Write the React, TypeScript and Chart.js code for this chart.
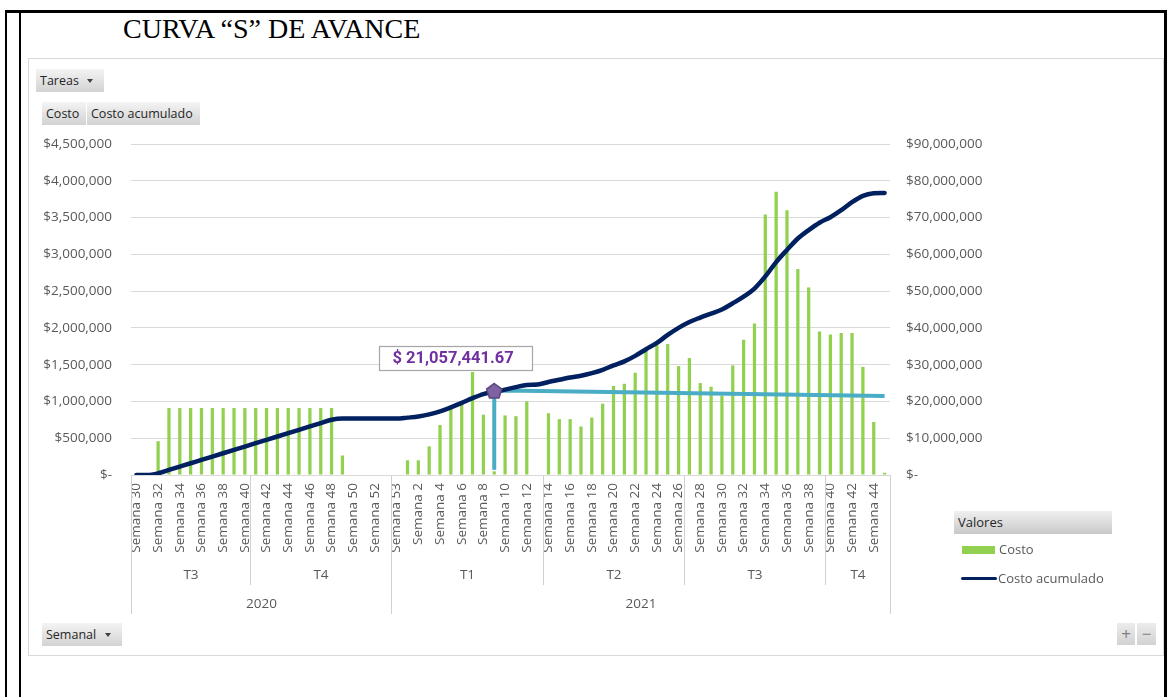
import React, { useEffect, useRef } from 'react';
import { Chart, registerables } from 'chart.js';

Chart.register(...registerables);

// ---------- DATA ----------
const weeks2020 = [30, 31, 32, 33, 34, 35, 36, 37, 38, 39, 40, 41, 42, 43, 44, 45, 46, 47, 48, 49, 50, 51, 52, 53];
const weeks2021 = [53, 1, 2, 3, 4, 5, 6, 7, 8, 9, 10, 11, 12, 13, 14, 15, 16, 17, 18, 19, 20, 21, 22, 23, 24, 25, 26, 27, 28, 29, 30, 31, 32, 33, 34, 35, 36, 37, 38, 39, 40, 41, 42, 43, 44, 45];

const quarterLabels = ['T3', 'T4', 'T1', 'T2', 'T3', 'T4'];
const quarterWeekCounts = [11, 13, 14, 13, 13, 6];
const yearLabels = ['2020', '2021'];
const yearQuarterCounts = [2, 4];

const costo2020 = [null, null, 460000, 910000, 910000, 910000, 910000, 910000, 910000, 910000, 910000, 910000, 910000, 910000, 910000, 910000, 910000, 910000, 910000, 265000, null, null, null, null];
const costo2021 = [null, 200000, 200000, 390000, 680000, 910000, 990000, 1400000, 820000, 50000, 810000, 800000, 1000000, null, 840000, 760000, 760000, 660000, 780000, 970000, 1210000, 1240000, 1390000, 1710000, 1790000, 1780000, 1480000, 1590000, 1250000, 1200000, 1080000, 1490000, 1840000, 2060000, 3540000, 3850000, 3600000, 2800000, 2550000, 1950000, 1910000, 1930000, 1930000, 1470000, 720000, 30000];

const acumulado2020 = [0, 0, 460000, 1370000, 2280000, 3190000, 4100000, 5010000, 5920000, 6830000, 7740000, 8650000, 9560000, 10470000, 11380000, 12290000, 13200000, 14110000, 15020000, 15350000, 15350000, 15350000, 15350000, 15350000];
const acumulado2021 = [15350000, 15600000, 15900000, 16500000, 17300000, 18400000, 19600000, 20900000, 22000000, 22600000, 23200000, 23900000, 24500000, 24600000, 25300000, 25900000, 26500000, 27000000, 27700000, 28600000, 29800000, 30900000, 32400000, 34200000, 35900000, 38100000, 40000000, 41600000, 42800000, 43900000, 45000000, 46700000, 48500000, 50700000, 54000000, 57900000, 61200000, 64300000, 66600000, 68600000, 70100000, 72000000, 74200000, 75900000, 76600000, 76700000];

// annotation line (week index, value)
const tendenciaPuntos: [number, number][] = [[33, 22700000], [34, 23000000], [69, 21500000]];
const markerWeekIndex = 33;
const markerValue = 22700000;
const markerBottomValue = 1400000;
const markerLabel = '$ 21,057,441.67';

const leftTicksMax = 4500000;
const leftTicksStep = 500000;
const rightTicksMax = 90000000;
const rightTicksStep = 10000000;

// ---------- derived for chart ----------
const weekLabels = [...weeks2020, ...weeks2021].map((w) => `Semana ${w}`);
const costo = [...costo2020, ...costo2021];
const acumulado = [...acumulado2020, ...acumulado2021];
const tendencia = weekLabels.map((_, i) => {
  const p = tendenciaPuntos.find((q) => q[0] === i);
  return p ? p[1] : null;
});

const FONT = '"Open Sans", "Noto Sans", sans-serif';
const AXIS_COLOR = '#595959';
const GRID = '#d9d9d9';

const money = (v: number) => (v === 0 ? '$-' : '$' + Number(v).toLocaleString('en-US'));

const groupPlugin = {
  id: 'groups',
  afterDraw(chart: any) {
    const ctx = chart.ctx;
    const xs = chart.scales.x;
    const top = chart.chartArea.bottom;
    ctx.save();
    ctx.strokeStyle = '#d0d0d0';
    ctx.lineWidth = 1;
    ctx.fillStyle = AXIS_COLOR;
    ctx.font = `13.5px ${FONT}`;
    ctx.textAlign = 'center';
    ctx.textBaseline = 'middle';
    const edge = (i: number) => Math.round(xs.getPixelForValue(i - 0.5)) + 0.5;
    let start = 0;
    const quarterStarts: number[] = [];
    quarterLabels.forEach((q, k) => {
      const end = start + quarterWeekCounts[k];
      quarterStarts.push(start);
      const l = edge(start);
      const r = edge(end);
      ctx.fillText(q, (l + r) / 2, top + 100);
      start = end;
    });
    quarterStarts.push(start);
    let qi = 0;
    const yearEdges: number[] = [];
    yearLabels.forEach((y, k) => {
      const s = quarterStarts[qi];
      const e = quarterStarts[qi + yearQuarterCounts[k]];
      const l = edge(s);
      const r = edge(e);
      ctx.fillText(y, (l + r) / 2, top + 129);
      yearEdges.push(s, e);
      qi += yearQuarterCounts[k];
    });
    quarterStarts.forEach((s) => {
      const isYear = yearEdges.includes(s);
      const x = edge(s);
      ctx.beginPath();
      ctx.moveTo(x, top);
      ctx.lineTo(x, top + (isYear ? 139 : 110));
      ctx.stroke();
    });
    ctx.restore();
  },
};

const markerPlugin = {
  id: 'marker',
  afterDatasetsDraw(chart: any) {
    const ctx = chart.ctx;
    const xs = chart.scales.x;
    const yr = chart.scales.y1;
    const mx = xs.getPixelForValue(markerWeekIndex);
    const my = yr.getPixelForValue(markerValue);
    const by = yr.getPixelForValue(markerBottomValue);
    ctx.save();
    ctx.strokeStyle = '#4BACC6';
    ctx.lineWidth = 4;
    ctx.beginPath();
    ctx.moveTo(mx, my);
    ctx.lineTo(mx, by);
    ctx.stroke();
    const r = 8;
    ctx.beginPath();
    for (let k = 0; k < 5; k++) {
      const a = -Math.PI / 2 + (k * 2 * Math.PI) / 5;
      const px = mx + r * Math.cos(a);
      const py = my + r * Math.sin(a);
      if (k === 0) ctx.moveTo(px, py);
      else ctx.lineTo(px, py);
    }
    ctx.closePath();
    ctx.fillStyle = '#7E62A1';
    ctx.fill();
    ctx.strokeStyle = '#5B4680';
    ctx.lineWidth = 1.5;
    ctx.stroke();
    const bx = Math.round(mx - 115) + 0.5;
    const byy = Math.round(my - 46) + 0.5;
    ctx.fillStyle = '#ffffff';
    ctx.fillRect(bx, byy, 153, 24);
    ctx.strokeStyle = '#a6a6a6';
    ctx.lineWidth = 1.2;
    ctx.strokeRect(bx, byy, 153, 24);
    ctx.fillStyle = '#7030A0';
    ctx.font = `bold 16.5px Roboto, ${FONT}`;
    ctx.textAlign = 'left';
    ctx.textBaseline = 'middle';
    ctx.fillText(markerLabel, bx + 13, byy + 12.5);
    ctx.restore();
  },
};

function Button({ left, top, width, text, arrow }: { left: number; top: number; width: number; text: string; arrow?: boolean }) {
  return (
    <div
      style={{
        position: 'absolute',
        left,
        top,
        width,
        height: 23,
        background: 'linear-gradient(#f4f4f4, #d2d2d2)',
        boxSizing: 'border-box',
        fontFamily: FONT,
        fontSize: 12.5,
        color: '#262626',
        lineHeight: '23px',
        paddingLeft: 4,
        whiteSpace: 'nowrap',
      }}
    >
      {text}
      {arrow && (
        <span
          style={{
            position: 'absolute',
            right: 11,
            top: 10,
            width: 0,
            height: 0,
            borderLeft: '3.5px solid transparent',
            borderRight: '3.5px solid transparent',
            borderTop: '4px solid #404040',
          }}
        />
      )}
    </div>
  );
}

export default function App() {
  const ref = useRef<HTMLCanvasElement>(null);

  useEffect(() => {
    const chart = new Chart(ref.current as HTMLCanvasElement, {
      type: 'bar',
      data: {
        labels: weekLabels,
        datasets: [
          {
            type: 'line',
            label: 'Costo acumulado',
            data: acumulado,
            yAxisID: 'y1',
            borderColor: '#002060',
            borderWidth: 4.5,
            pointRadius: 0,
            tension: 0.4,
            cubicInterpolationMode: 'monotone',
            borderCapStyle: 'round',
            order: 0,
          } as any,
          {
            type: 'line',
            label: 'Tendencia',
            data: tendencia,
            yAxisID: 'y1',
            borderColor: '#4BACC6',
            borderWidth: 4,
            pointRadius: 0,
            spanGaps: true,
            tension: 0,
            order: 1,
          } as any,
          {
            type: 'bar',
            label: 'Costo',
            data: costo,
            yAxisID: 'y',
            backgroundColor: '#92D050',
            categoryPercentage: 1,
            barPercentage: 0.3,
            order: 2,
          } as any,
        ],
      },
      options: {
        responsive: false,
        animation: false,
        devicePixelRatio: 1,
        layout: { autoPadding: false, padding: { top: 14, left: 0, right: 0, bottom: 0 } },
        plugins: { legend: { display: false }, tooltip: { enabled: false } },
        scales: {
          x: {
            offset: true,
            grid: { display: false, drawTicks: false },
            border: { display: false },
            ticks: {
              autoSkip: false,
              maxRotation: 90,
              minRotation: 90,
              padding: 8,
              color: AXIS_COLOR,
              font: { family: FONT, size: 13.5 },
              callback: (_v: any, i: number) => (i % 2 === 0 ? weekLabels[i] : ''),
            },
            afterFit: (s: any) => {
              s.height = 149;
            },
          },
          y: {
            position: 'left',
            min: 0,
            max: leftTicksMax,
            grid: { color: GRID, drawTicks: true, tickLength: 19, tickColor: 'rgba(0,0,0,0)', lineWidth: 1 },
            border: { display: false },
            ticks: {
              stepSize: leftTicksStep,
              padding: 0,
              color: AXIS_COLOR,
              font: { family: FONT, size: 13.5 },
              callback: (v: any) => money(Number(v)),
            },
            afterFit: (s: any) => {
              s.width = 102;
            },
          },
          y1: {
            position: 'right',
            min: 0,
            max: rightTicksMax,
            grid: {
              display: true,
              drawOnChartArea: false,
              color: 'rgba(0,0,0,0)',
              drawTicks: true,
              tickLength: 16,
              tickColor: 'rgba(0,0,0,0)',
            },
            border: { display: false },
            ticks: {
              stepSize: rightTicksStep,
              padding: 0,
              color: AXIS_COLOR,
              font: { family: FONT, size: 13.5 },
              callback: (v: any) => money(Number(v)),
            },
            afterFit: (s: any) => {
              s.width = 270;
            },
          },
        },
      },
      plugins: [groupPlugin, markerPlugin],
    });
    return () => chart.destroy();
  }, []);

  return (
    <div
      style={{
        position: 'fixed',
        left: 0,
        top: 0,
        width: 1167,
        height: 697,
        background: '#ffffff',
        overflow: 'hidden',
      }}
    >
      <div style={{ position: 'absolute', left: 5, top: 9.5, width: 1161, height: 3, background: '#000' }} />
      <div style={{ position: 'absolute', left: 5, top: 9.5, width: 2, height: 690, background: '#000' }} />
      <div style={{ position: 'absolute', left: 18.5, top: 9.5, width: 2, height: 690, background: '#000' }} />
      <div style={{ position: 'absolute', left: 1164, top: 9.5, width: 2.5, height: 690, background: '#000' }} />

      <div
        style={{
          position: 'absolute',
          left: 123,
          top: 15,
          fontFamily: '"Liberation Serif", "Times New Roman", serif',
          fontSize: 28,
          lineHeight: '28px',
          color: '#000',
          whiteSpace: 'nowrap',
        }}
      >
        CURVA “S” DE AVANCE
      </div>

      <div
        style={{
          position: 'absolute',
          left: 28,
          top: 58,
          width: 1136,
          height: 598,
          border: '1px solid #d9d9d9',
          boxSizing: 'border-box',
        }}
      />

      <Button left={36} top={69} width={68} text="Tareas" arrow />
      <Button left={42} top={102} width={44} text="Costo" />
      <Button left={87} top={102} width={113} text="Costo acumulado" />
      <Button left={42} top={623} width={80} text="Semanal" arrow />

      <div
        style={{
          position: 'absolute',
          left: 1117,
          top: 623,
          width: 18,
          height: 22,
          background: 'linear-gradient(#ececec, #d2d2d2)',
          color: '#7f7f7f',
          fontFamily: FONT,
          fontSize: 17,
          lineHeight: '22px',
          textAlign: 'center',
        }}
      >
        +
      </div>
      <div
        style={{
          position: 'absolute',
          left: 1137,
          top: 623,
          width: 19,
          height: 22,
          background: 'linear-gradient(#ececec, #d2d2d2)',
          color: '#7f7f7f',
          fontFamily: FONT,
          fontSize: 17,
          lineHeight: '22px',
          textAlign: 'center',
        }}
      >
        −
      </div>

      <canvas ref={ref} width={1131} height={494} style={{ position: 'absolute', left: 29, top: 130 }} />

      <div
        style={{
          position: 'absolute',
          left: 954,
          top: 511,
          width: 158,
          height: 23,
          background: 'linear-gradient(#f0f0f0, #c9c9c9)',
          fontFamily: FONT,
          fontSize: 13,
          lineHeight: '23px',
          color: '#262626',
          paddingLeft: 4,
          boxSizing: 'border-box',
        }}
      >
        Valores
      </div>
      <div style={{ position: 'absolute', left: 962, top: 546, width: 33, height: 8, background: '#92D050' }} />
      <div
        style={{
          position: 'absolute',
          left: 999,
          top: 539,
          height: 20,
          lineHeight: '20px',
          fontFamily: FONT,
          fontSize: 13,
          color: AXIS_COLOR,
        }}
      >
        Costo
      </div>
      <div
        style={{ position: 'absolute', left: 961, top: 576.5, width: 36, height: 3.5, borderRadius: 2, background: '#002060' }}
      />
      <div
        style={{
          position: 'absolute',
          left: 998,
          top: 568,
          height: 20,
          lineHeight: '20px',
          fontFamily: FONT,
          fontSize: 13,
          color: AXIS_COLOR,
          whiteSpace: 'nowrap',
        }}
      >
        Costo acumulado
      </div>
    </div>
  );
}
